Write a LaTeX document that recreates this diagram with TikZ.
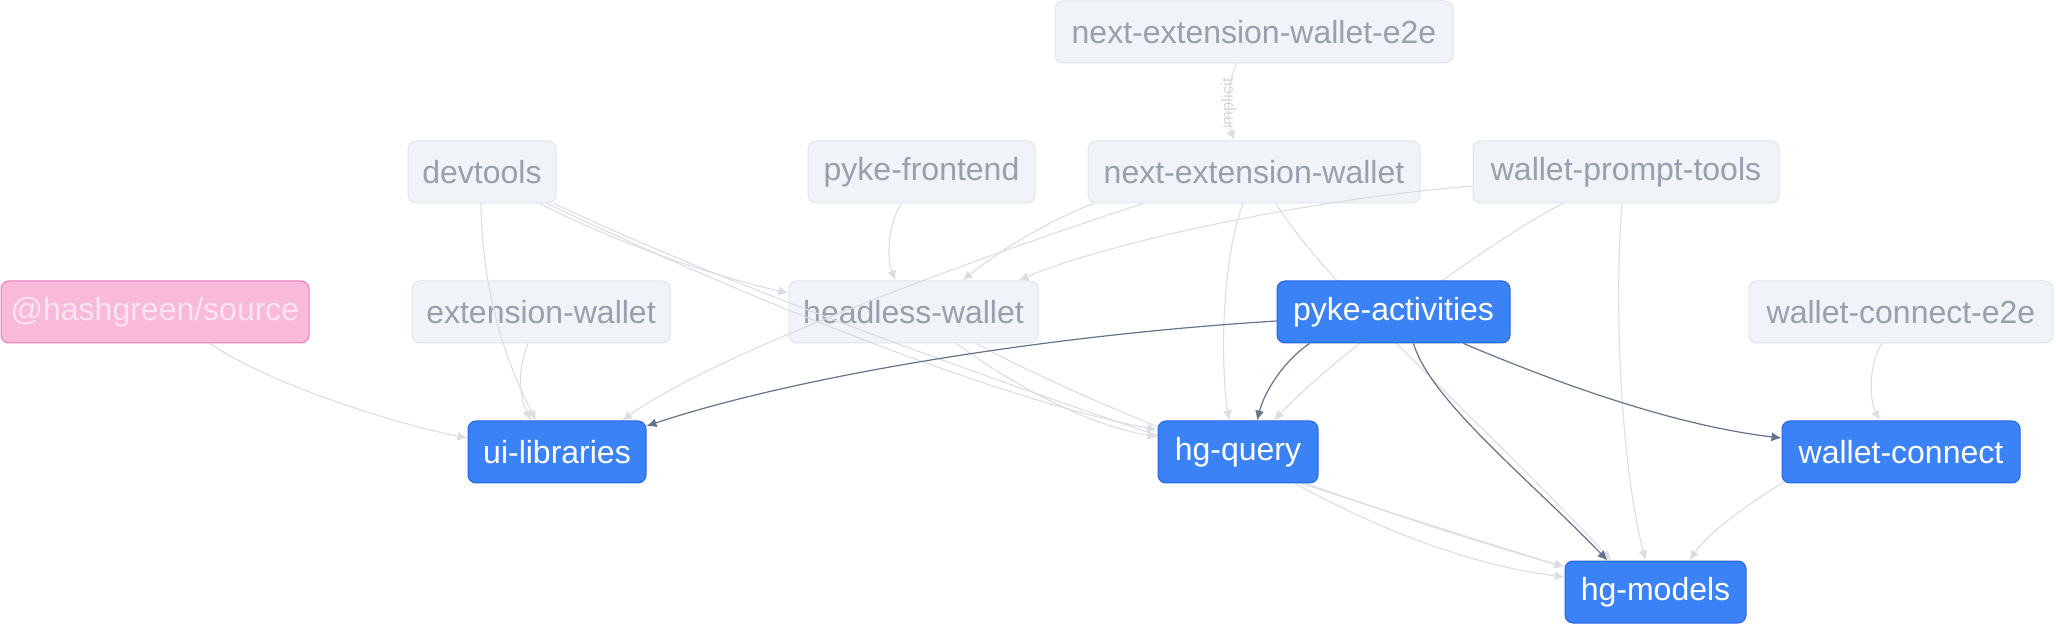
\documentclass[tikz,border=0pt]{standalone}
\usepackage{fontspec}
\setmainfont{Liberation Sans}
\usetikzlibrary{arrows.meta,calc}
\definecolor{gfill}{HTML}{F0F3F7}
\definecolor{gdraw}{HTML}{E1E5EB}
\definecolor{gtext}{HTML}{989FAD}
\definecolor{bfill}{HTML}{3B82F6}
\definecolor{bdraw}{HTML}{2563EB}
\definecolor{pfill}{HTML}{F8B9DA}
\definecolor{pdraw}{HTML}{F07AB8}
\definecolor{ptext}{HTML}{FCE4F1}
\definecolor{ledge}{HTML}{DADEE4}
\definecolor{dedge}{HTML}{64748B}
\definecolor{lbl}{HTML}{D4D8DE}
\pgfdeclarelayer{bg}
\pgfdeclarelayer{edgelayer}
\pgfsetlayers{bg,edgelayer,main}
\begin{document}
\begin{tikzpicture}[x=0.5pt,y=-0.5pt,
  box/.style={rounded corners=4pt, line width=0.5pt, minimum height=31pt, inner sep=0pt, font=\fontsize{16}{19}\selectfont},
  gbox/.style={box, fill=gfill, draw=gdraw, text=gtext},
  bbox/.style={box, fill=bfill, draw=bdraw, text=white},
  pbox/.style={box, fill=pfill, draw=pdraw, text=ptext},
  ledg/.style={draw=ledge, line width=0.55pt, -{Latex[length=5pt,width=4.5pt]}},
  dedg/.style={draw=dedge, line width=0.6pt, -{Latex[length=5pt,width=4.5pt]}},
]
\useasboundingbox (0,0) rectangle (2056,625);

\begin{pgfonlayer}{bg}
\node[gbox, minimum width=199pt] (e2e) at (1254,32) {next-extension-wallet-e2e};
\node[gbox, minimum width=74pt] (devtools) at (482,172) {devtools};
\node[gbox, minimum width=113.5pt] (pykefrontend) at (921.5,172) {pyke-frontend};
\node[gbox, minimum width=166pt] (nextext) at (1254,172) {next-extension-wallet};
\node[gbox, minimum width=153pt] (walletprompt) at (1626,172) {wallet-prompt-tools};
\node[gbox, minimum width=129pt] (extwallet) at (541,312) {extension-wallet};
\node[gbox, minimum width=124.5pt] (headless) at (913.5,312) {headless-wallet};
\node[gbox, minimum width=152pt] (wce2e) at (1901,312) {wallet-connect-e2e};
\end{pgfonlayer}

\node[pbox, minimum width=154pt] (hashgreen) at (155,312) {@hashgreen/source};
\node[bbox, minimum width=116.5pt] (pykeact) at (1393.5,312) {pyke-activities};
\node[bbox, minimum width=89pt] (uilib) at (557,452) {ui-libraries};
\node[bbox, minimum width=80pt] (hgquery) at (1238,452) {hg-query};
\node[bbox, minimum width=119pt] (walletconnect) at (1901,452) {wallet-connect};
\node[bbox, minimum width=90.5pt] (hgmodels) at (1655.5,592) {hg-models};

\begin{pgfonlayer}{edgelayer}
% light edges
\draw[ledg] ($(e2e.south)+(-18,0)$) .. controls (1226,90) and (1227,118) .. ($(nextext.north)+(-20,0)$)
  node[pos=0.5, rotate=90, text=lbl, font=\fontsize{8.3}{10}\selectfont] {implicit};
\draw[ledg] ($(devtools.south)+(-1,0)$) .. controls (482,290) and (505,360) .. ($(uilib.north)+(-21,0)$);
\draw[ledg] ($(extwallet.south)+(-13,0)$) .. controls (517,370) and (519,395) .. ($(uilib.north)+(-26,0)$);
\draw[ledg] ($(hashgreen.south)+(55,0)$) .. controls (270,385) and (400,425) .. ($(uilib.west)+(0,-14)$);
\draw[ledg] ($(devtools.south)+(58,0)$) .. controls (630,250) and (730,280) .. ($(headless.west)+(0,-19)$);
\draw[ledg] ($(devtools.south)+(65,0)$) .. controls (750,300) and (1000,400) .. ($(hgquery.west)+(0,-22)$);
\draw[ledg] ($(devtools.south)+(72,0)$) .. controls (800,320) and (1250,470) .. ($(hgmodels.west)+(0,-25)$);
\draw[ledg] ($(headless.south)+(43,0)$) .. controls (1020,390) and (1090,425) .. ($(hgquery.west)+(0,-15)$);
\draw[ledg] ($(headless.south)+(63,0)$) .. controls (1080,400) and (1300,490) .. ($(hgmodels.west)+(0,-25)$);
\draw[ledg] ($(hgquery.south)+(57,0)$) .. controls (1380,530) and (1470,565) .. ($(hgmodels.west)+(0,-15)$);
\draw[ledg] ($(pykefrontend.south)+(-20,0)$) .. controls (887,225) and (887,260) .. ($(headless.north)+(-18,0)$);
\draw[ledg] ($(nextext.south)+(-160,0)$) .. controls (1050,220) and (1000,250) .. ($(headless.north)+(49,0)$);
\draw[ledg] ($(walletprompt.west)+(0,14)$) .. controls (1300,200) and (1100,245) .. ($(headless.north)+(105,0)$);
\draw[ledg] ($(nextext.south)+(-111,0)$) .. controls (1000,250) and (720,350) .. ($(uilib.north)+(65,0)$);
\draw[ledg] ($(nextext.south)+(-11,0)$) .. controls (1222,260) and (1220,360) .. ($(hgquery.north)+(-9,0)$);
\draw[ledg] ($(nextext.south)+(22,0)$) .. controls (1330,290) and (1480,420) .. ($(hgmodels.north)+(-44,0)$);
\draw[ledg] ($(walletprompt.south)+(-63,0)$) .. controls (1490,240) and (1330,360) .. ($(hgquery.north)+(36,0)$);
\draw[ledg] ($(walletprompt.south)+(-4,0)$) .. controls (1614,300) and (1620,460) .. ($(hgmodels.north)+(-10,0)$);
\draw[ledg] ($(wce2e.south)+(-19,0)$) .. controls (1869,360) and (1869,400) .. ($(walletconnect.north)+(-21,0)$);
\draw[ledg] ($(walletconnect.south west)+(3,-2)$) .. controls (1755,500) and (1710,530) .. ($(hgmodels.north)+(34,0)$);
% dark edges
\draw[dedg] ($(pykeact.west)+(0,9)$) .. controls (1050,335) and (800,375) .. ($(uilib.east)+(0,-26)$);
\draw[dedg] ($(pykeact.south)+(-84,0)$) .. controls (1285,360) and (1265,390) .. ($(hgquery.north)+(19,0)$);
\draw[dedg] ($(pykeact.south)+(20,0)$) .. controls (1430,400) and (1530,480) .. ($(hgmodels.north)+(-48,0)$);
\draw[dedg] ($(pykeact.south)+(70,0)$) .. controls (1550,380) and (1670,425) .. ($(walletconnect.west)+(0,-14)$);
\end{pgfonlayer}
\end{tikzpicture}
\end{document}
